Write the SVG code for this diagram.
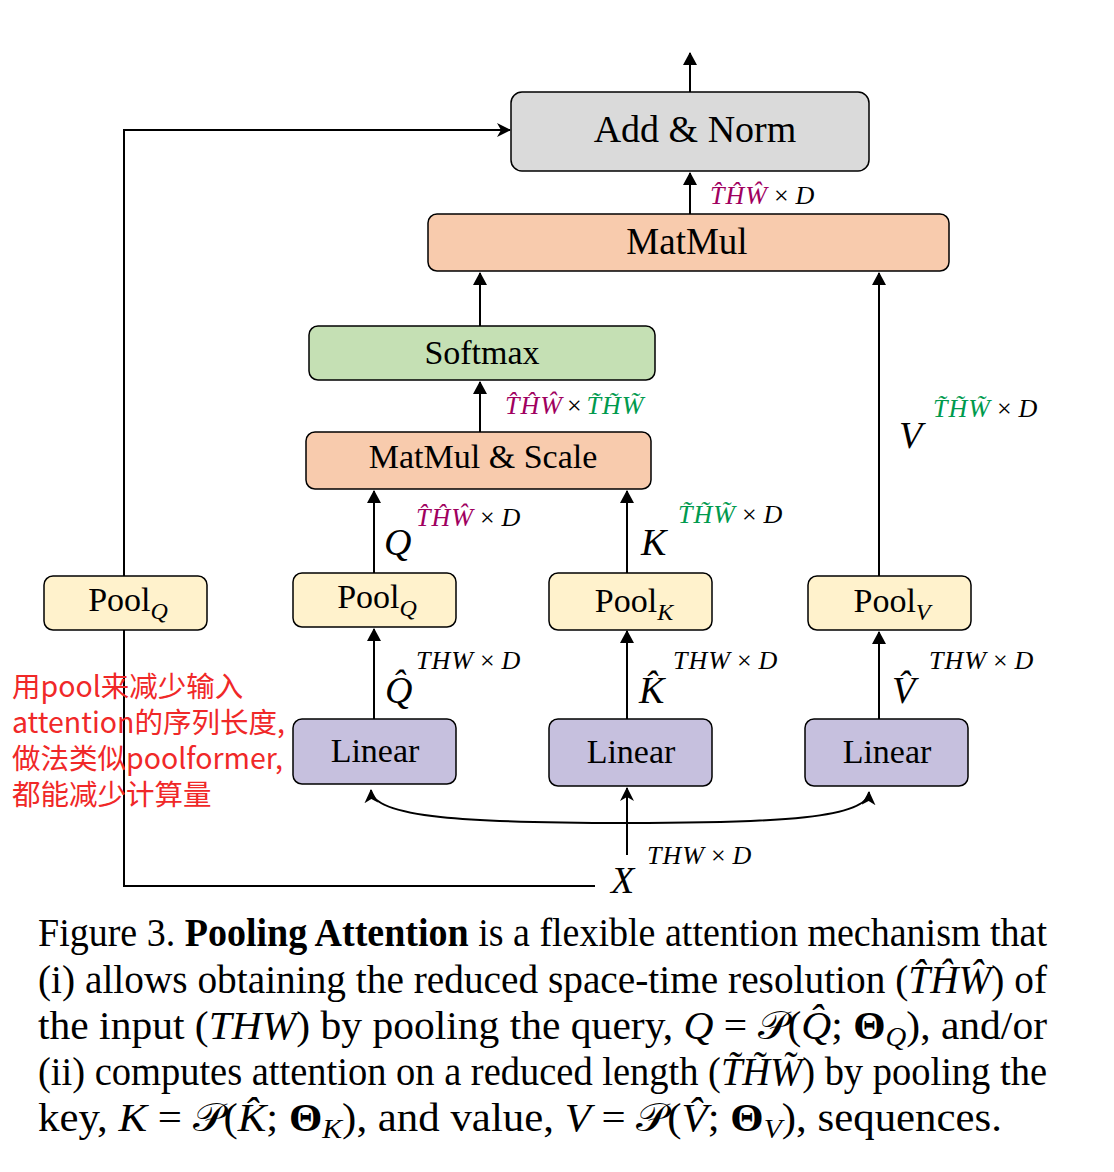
<svg xmlns="http://www.w3.org/2000/svg" width="1114" height="1172" viewBox="0 0 1114 1172">
<defs>
<style>
.box{stroke:#000;stroke-width:1.5}
.lbl{font-family:"Liberation Serif","Times New Roman",serif;fill:#000;text-anchor:middle}
.mi{font-family:"Liberation Serif","DejaVu Serif",serif;font-style:italic}
.sup{font-family:"Liberation Serif","DejaVu Serif",serif;font-style:italic;font-size:26px;fill:#000;letter-spacing:1px}
.big{font-family:"Liberation Serif","DejaVu Serif",serif;font-style:italic;font-size:38px;fill:#000}
.mag{fill:#a0005f}
.grn{fill:#009a4e}
.op{font-style:normal}
.cap{font-family:"Liberation Serif","Times New Roman",serif;font-size:39px;fill:#000}
.note{font-family:"Noto Sans CJK SC","Noto Sans",sans-serif;font-size:28.5px;fill:#f02828}
.con{fill:none;stroke:#000;stroke-width:2}
</style>
<marker id="tri" viewBox="0 0 13 14" refX="12" refY="7" markerWidth="13" markerHeight="14" markerUnits="userSpaceOnUse" orient="auto"><path d="M0,0 L13,7 L0,14 z" fill="#000"/></marker>
<marker id="cls" viewBox="0 0 14 14" refX="13" refY="7" markerWidth="14" markerHeight="14" markerUnits="userSpaceOnUse" orient="auto"><path d="M0,0 L14,7 L0,14 L4,7 z" fill="#000"/></marker>
</defs>
<rect width="1114" height="1172" fill="#fff"/>

<g id="connectors">
<path class="con" d="M690,92 V53" marker-end="url(#tri)"/>
<path class="con" d="M690,214 V173" marker-end="url(#tri)"/>
<path class="con" d="M480,326 V273" marker-end="url(#tri)"/>
<path class="con" d="M480,432 V382" marker-end="url(#tri)"/>
<path class="con" d="M374,573 V491" marker-end="url(#tri)"/>
<path class="con" d="M627,573 V491" marker-end="url(#tri)"/>
<path class="con" d="M879,576 V273" marker-end="url(#tri)"/>
<path class="con" d="M374,719 V629" marker-end="url(#tri)"/>
<path class="con" d="M627,719 V631" marker-end="url(#tri)"/>
<path class="con" d="M879,719 V632" marker-end="url(#tri)"/>
<path class="con" d="M124,576 V130 H510" marker-end="url(#cls)"/>
<path class="con" d="M124,630 V886 H595"/>
<path class="con" d="M627,855 V788" marker-end="url(#cls)"/>
<path class="con" d="M627,823 C470,823 372,818 371,790" marker-end="url(#cls)"/>
<path class="con" d="M627,823 C780,823 868,818 869,792" marker-end="url(#cls)"/>
</g>

<g id="addnorm">
<rect class="box" x="511" y="92" width="358" height="79" rx="11" fill="#dadada"/>
<text class="lbl" x="695" y="142" font-size="38">Add &amp; Norm</text>
</g>
<g id="matmul">
<rect class="box" x="428" y="214" width="521" height="57" rx="9" fill="#f8cbad"/>
<text class="lbl" x="687" y="254" font-size="37">MatMul</text>
</g>
<g id="softmax">
<rect class="box" x="309" y="326" width="346" height="54" rx="9" fill="#c5e0b4"/>
<text class="lbl" x="482" y="364" font-size="34">Softmax</text>
</g>
<g id="matmulscale">
<rect class="box" x="306" y="432" width="345" height="57" rx="9" fill="#f8cbad"/>
<text class="lbl" x="483" y="468" font-size="34">MatMul &amp; Scale</text>
</g>
<g id="poolq-skip">
<rect class="box" x="44" y="576" width="163" height="54" rx="9" fill="#fff2cc"/>
<text class="lbl" x="128" y="611" font-size="34">Pool<tspan class="mi" font-size="24" dy="8">Q</tspan></text>
</g>
<g id="poolq">
<rect class="box" x="293" y="573" width="163" height="54" rx="9" fill="#fff2cc"/>
<text class="lbl" x="377" y="608" font-size="34">Pool<tspan class="mi" font-size="24" dy="8">Q</tspan></text>
</g>
<g id="poolk">
<rect class="box" x="549" y="573" width="163" height="57" rx="9" fill="#fff2cc"/>
<text class="lbl" x="634" y="612" font-size="34">Pool<tspan class="mi" font-size="24" dy="8">K</tspan></text>
</g>
<g id="poolv">
<rect class="box" x="808" y="576" width="163" height="54" rx="9" fill="#fff2cc"/>
<text class="lbl" x="892" y="612" font-size="34">Pool<tspan class="mi" font-size="24" dy="8">V</tspan></text>
</g>
<g id="linearq">
<rect class="box" x="293" y="719" width="163" height="65" rx="9" fill="#c6c0de"/>
<text class="lbl" x="375" y="762" font-size="34">Linear</text>
</g>
<g id="lineark">
<rect class="box" x="549" y="719" width="163" height="67" rx="9" fill="#c6c0de"/>
<text class="lbl" x="631" y="763" font-size="34">Linear</text>
</g>
<g id="linearv">
<rect class="box" x="805" y="719" width="163" height="67" rx="9" fill="#c6c0de"/>
<text class="lbl" x="887" y="763" font-size="34">Linear</text>
</g>

<g id="labels">
<text class="sup" x="710" y="204"><tspan class="mag">T̂ĤŴ</tspan><tspan class="op" dx="6">×</tspan><tspan dx="6">D</tspan></text>
<text class="sup" x="505" y="414"><tspan class="mag">T̂ĤŴ</tspan><tspan class="op" dx="4">×</tspan><tspan class="grn" dx="4">T̃H̃W̃</tspan></text>
<text class="big" x="384" y="555">Q</text>
<text class="sup" x="416" y="526"><tspan class="mag">T̂ĤŴ</tspan><tspan class="op" dx="6">×</tspan><tspan dx="6">D</tspan></text>
<text class="big" x="641" y="555">K</text>
<text class="sup" x="678" y="523"><tspan class="grn">T̃H̃W̃</tspan><tspan class="op" dx="6">×</tspan><tspan dx="6">D</tspan></text>
<text class="big" x="899" y="448">V</text>
<text class="sup" x="933" y="417"><tspan class="grn">T̃H̃W̃</tspan><tspan class="op" dx="6">×</tspan><tspan dx="6">D</tspan></text>
<text class="big" x="385" y="703">Q̂</text>
<text class="sup" x="416" y="669">THW<tspan class="op" dx="6">×</tspan><tspan dx="6">D</tspan></text>
<text class="big" x="639" y="703">K̂</text>
<text class="sup" x="673" y="669">THW<tspan class="op" dx="6">×</tspan><tspan dx="6">D</tspan></text>
<text class="big" x="892" y="703">V̂</text>
<text class="sup" x="929" y="669">THW<tspan class="op" dx="6">×</tspan><tspan dx="6">D</tspan></text>
<text class="big" x="611" y="893">X</text>
<text class="sup" x="647" y="864">THW<tspan class="op" dx="6">×</tspan><tspan dx="6">D</tspan></text>
</g>

<g id="note">
<text class="note"><tspan x="12" y="697">用pool来减少输入</tspan><tspan x="12" y="733">attention的序列长度,</tspan><tspan x="12" y="769">做法类似poolformer,</tspan><tspan x="12" y="805">都能减少计算量</tspan></text>
</g>

<g id="caption">
<text class="cap" x="38" y="946" textLength="1009" lengthAdjust="spacingAndGlyphs">Figure 3. <tspan font-weight="bold">Pooling Attention</tspan> is a flexible attention mechanism that</text>
<text class="cap" x="38" y="993" textLength="1009" lengthAdjust="spacingAndGlyphs">(i) allows obtaining the reduced space-time resolution (<tspan class="mi">T̂ĤŴ</tspan>) of</text>
<text class="cap" x="38" y="1039" textLength="1009" lengthAdjust="spacingAndGlyphs">the input (<tspan class="mi">THW</tspan>) by pooling the query, <tspan class="mi">Q</tspan> = 𝒫(<tspan class="mi">Q̂</tspan>; <tspan font-weight="bold">Θ</tspan><tspan class="mi" font-size="27" dy="7">Q</tspan><tspan dy="-7">), and/or</tspan></text>
<text class="cap" x="38" y="1085" textLength="1009" lengthAdjust="spacingAndGlyphs">(ii) computes attention on a reduced length (<tspan class="mi">T̃H̃W̃</tspan>) by pooling the</text>
<text class="cap" x="38" y="1131" textLength="964" lengthAdjust="spacingAndGlyphs">key, <tspan class="mi">K</tspan> = 𝒫(<tspan class="mi">K̂</tspan>; <tspan font-weight="bold">Θ</tspan><tspan class="mi" font-size="27" dy="7">K</tspan><tspan dy="-7">), and value, </tspan><tspan class="mi">V</tspan> = 𝒫(<tspan class="mi">V̂</tspan>; <tspan font-weight="bold">Θ</tspan><tspan class="mi" font-size="27" dy="7">V</tspan><tspan dy="-7">), sequences.</tspan></text>
</g>
</svg>
